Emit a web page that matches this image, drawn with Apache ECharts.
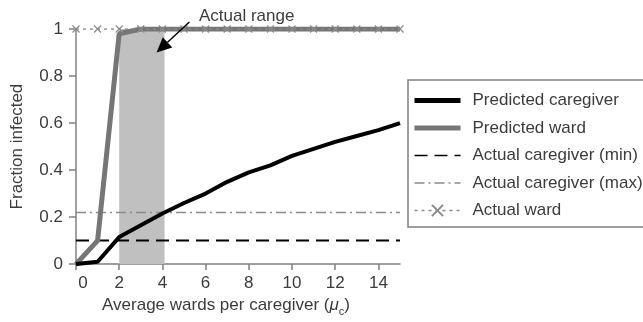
<!DOCTYPE html>
<html>
<head>
<meta charset="utf-8">
<script src="https://cdn.jsdelivr.net/npm/echarts@6/dist/echarts.min.js"></script>
<style>
  html, body { margin: 0; padding: 0; background: #fff; }
  #main { width: 643px; height: 322px; }
</style>
</head>
<body>
<div id="main"></div>
<script>
// data
var wards = [0, 1, 2, 3, 4, 5, 6, 7, 8, 9, 10, 11, 12, 13, 14, 15];
var predCaregiver = [0, 0.01, 0.115, 0.165, 0.215, 0.26, 0.30, 0.35, 0.39, 0.42, 0.46, 0.49, 0.52, 0.545, 0.57, 0.60];
var predWard = [0, 0.1, 0.98, 1, 1, 1, 1, 1, 1, 1, 1, 1, 1, 1, 1, 1];
var actualWard = [1, 1, 1, 1, 1, 1, 1, 1, 1, 1, 1, 1, 1, 1, 1, 1];
var caregiverMin = 0.1;
var caregiverMax = 0.22;
var actualRange = [2, 4.1];
var xTicks = [0, 2, 4, 6, 8, 10, 12, 14];
var yTicks = [0, 0.2, 0.4, 0.6, 0.8, 1];

var FONT = "'Liberation Sans', Arial, sans-serif";
var TXT = '#3c3c3c';
var FS = 17;

function pairs(xs, ys) {
    return xs.map(function (x, i) { return [x, ys[i]]; });
}
function flat(v) {
    return [[wards[0], v], [wards[wards.length - 1], v]];
}

var myChart = echarts.init(document.getElementById('main'));
var hideMark = { opacity: 0 };
var option = {
    animation: false,
    backgroundColor: '#fff',
    textStyle: { fontFamily: FONT },
    grid: { left: 76, right: 243, top: 29, bottom: 54 },
    legend: {
        orient: 'vertical',
        left: 408,
        top: 80,
        padding: [12, 40, 8, 4],
        itemWidth: 46,
        itemHeight: 14,
        itemGap: 10.5,
        borderColor: '#808080',
        borderWidth: 1.5,
        backgroundColor: '#fff',
        textStyle: { fontFamily: FONT, fontSize: FS, color: TXT, padding: [0, 0, 0, 7] },
        data: [
            { name: 'Predicted caregiver', lineStyle: { width: 5 }, itemStyle: hideMark },
            { name: 'Predicted ward', lineStyle: { width: 5 }, itemStyle: hideMark },
            { name: 'Actual caregiver (min)', lineStyle: { width: 1.5 }, itemStyle: hideMark },
            { name: 'Actual caregiver (max)', lineStyle: { width: 1.5 }, itemStyle: hideMark },
            { name: 'Actual ward', lineStyle: { width: 1.5 } }
        ]
    },
    xAxis: {
        type: 'value',
        min: 0,
        max: 15,
        interval: 2,
        name: '{a|Average wards per caregiver (}{i|μ}{s|c}{a|)}',
        nameLocation: 'middle',
        nameGap: 32,
        nameTextStyle: {
            padding: [0, 24, 0, 0],
            rich: {
                a: { fontFamily: FONT, fontSize: FS, color: TXT, verticalAlign: 'top' },
                i: { fontFamily: FONT, fontSize: FS, color: TXT, fontStyle: 'italic', verticalAlign: 'top' },
                s: { fontFamily: FONT, fontSize: 11, color: TXT, verticalAlign: 'bottom', padding: [9, 0, 0, 0] }
            }
        },
        splitLine: { show: false },
        axisLine: { lineStyle: { color: '#808080', width: 1.5 } },
        axisTick: { length: 6, lineStyle: { color: '#808080', width: 1.5 } },
        axisLabel: {
            margin: 11, fontSize: FS, color: TXT, fontFamily: FONT,
            showMaxLabel: false,
            formatter: function (v) {
                if (xTicks.indexOf(v) < 0) return '';
                return v === 0 ? '{z|0}' : String(v);
            },
            rich: { z: { fontFamily: FONT, fontSize: FS, color: TXT, padding: [0, 0, 0, 14] } }
        }
    },
    yAxis: {
        type: 'value',
        min: 0,
        max: 1,
        interval: 0.2,
        name: 'Fraction infected',
        nameLocation: 'middle',
        nameGap: 50,
        nameTextStyle: { fontFamily: FONT, fontSize: FS, color: TXT },
        splitLine: { show: false },
        axisLine: { show: true, lineStyle: { color: '#808080', width: 1.5 } },
        axisTick: { show: true, length: 7, lineStyle: { color: '#808080', width: 1.5 } },
        axisLabel: {
            margin: 13, fontSize: FS, color: TXT, fontFamily: FONT,
            formatter: function (v) {
                var r = Math.round(v * 10) / 10;
                return yTicks.indexOf(r) >= 0 ? String(r) : '';
            }
        }
    },
    series: [
        {
            name: 'Predicted caregiver',
            type: 'line',
            data: pairs(wards, predCaregiver),
            symbol: 'none',
            z: 4,
            lineStyle: { color: '#000', width: 4 },
            itemStyle: { color: '#000' },
            markArea: {
                silent: true,
                z: 1,
                itemStyle: { color: '#c0c0c0' },
                data: [[{ coord: [actualRange[0], 0] }, { coord: [actualRange[1], 1] }]]
            }
        },
        {
            name: 'Predicted ward',
            type: 'line',
            data: pairs(wards, predWard),
            symbol: 'none',
            z: 3,
            lineStyle: { color: '#767676', width: 5 },
            itemStyle: { color: '#767676' }
        },
        {
            name: 'Actual caregiver (min)',
            type: 'line',
            data: flat(caregiverMin),
            symbol: 'none',
            z: 2,
            lineStyle: { color: '#000', width: 2, type: [13, 7] },
            itemStyle: { color: '#000' }
        },
        {
            name: 'Actual caregiver (max)',
            type: 'line',
            data: flat(caregiverMax),
            symbol: 'none',
            z: 2,
            lineStyle: { color: '#8a8a8a', width: 1.5, type: [10, 4, 2, 4] },
            itemStyle: { color: '#8a8a8a' }
        },
        {
            name: 'Actual ward',
            type: 'line',
            data: pairs(wards, actualWard),
            symbol: 'path://M0,0L10,10M10,0L0,10',
            symbolSize: 7,
            z: 5,
            lineStyle: { color: '#8a8a8a', width: 1.5, type: [3, 4] },
            itemStyle: { color: '#8a8a8a', borderColor: '#8a8a8a', borderWidth: 1.2 }
        }
    ]
};
myChart.setOption(option);

// "Actual range" annotation, placed in data space
var arrowFrom = myChart.convertToPixel({ gridIndex: 0 }, [5.25, 1.03]);
var arrowTo = myChart.convertToPixel({ gridIndex: 0 }, [3.73, 0.9]);
var labelAt = myChart.convertToPixel({ gridIndex: 0 }, [7.9, 1.055]);
var dx = arrowTo[0] - arrowFrom[0], dy = arrowTo[1] - arrowFrom[1];
var len = Math.sqrt(dx * dx + dy * dy);
var ux = dx / len, uy = dy / len;
var headLen = 15, headW = 7;
var baseX = arrowTo[0] - ux * headLen, baseY = arrowTo[1] - uy * headLen;
myChart.setOption({
    graphic: [
        {
            type: 'line',
            z: 100,
            shape: { x1: arrowFrom[0], y1: arrowFrom[1], x2: baseX, y2: baseY },
            style: { stroke: '#000', lineWidth: 1.5 }
        },
        {
            type: 'polygon',
            z: 100,
            shape: {
                points: [
                    arrowTo,
                    [baseX - uy * headW, baseY + ux * headW],
                    [baseX + uy * headW, baseY - ux * headW]
                ]
            },
            style: { fill: '#000' }
        },
        {
            type: 'text',
            z: 100,
            x: labelAt[0],
            y: labelAt[1],
            style: {
                text: 'Actual range',
                fontFamily: FONT,
                fontSize: FS,
                fill: TXT,
                align: 'center',
                verticalAlign: 'middle'
            }
        }
    ]
});
</script>
</body>
</html>
